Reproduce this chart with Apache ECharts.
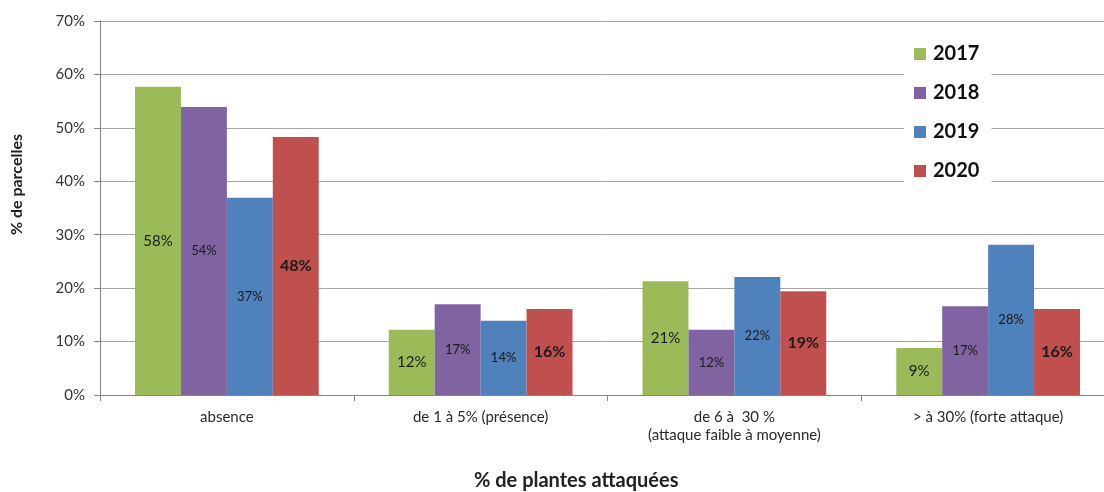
<!DOCTYPE html>
<html>
<head>
<meta charset="utf-8">
<style>
  html, body { margin: 0; padding: 0; background: #ffffff; }
  #chart { width: 1104px; height: 492px; }
</style>
<script src="https://cdn.jsdelivr.net/npm/echarts@6/dist/echarts.min.js"></script>
</head>
<body>
<div id="chart"></div>
<script>
// Attack classes (share of plants attacked)
const categories = [
  'absence',
  'de 1 à 5% (présence)',
  'de 6 à  30 %\n(attaque faible à moyenne)',
  '> à 30% (forte attaque)'
];

// Share of plots (%) per year
const years = ['2017', '2018', '2019', '2020'];
const values2017 = [57.7, 12.2, 21.3, 8.8];
const values2018 = [53.9, 17.0, 12.2, 16.6];
const values2019 = [36.9, 13.9, 22.1, 28.1];
const values2020 = [48.3, 16.1, 19.4, 16.1];

// Y axis ticks
const yMin = 0, yMax = 70, yStep = 10;

const FONT = 'Lato, "Open Sans", sans-serif';
const colors = ['#9BBB59', '#8064A2', '#4F81BD', '#C0504D'];
const labelStyles = [
  { fontSize: 15, fontWeight: 'normal' },
  { fontSize: 13, fontWeight: 'normal' },
  { fontSize: 13, fontWeight: 'normal' },
  { fontSize: 16, fontWeight: 'bold' }
];
const seriesValues = [values2017, values2018, values2019, values2020];

const chart = echarts.init(document.getElementById('chart'), null, { renderer: 'canvas' });

chart.setOption({
  animation: false,
  backgroundColor: '#ffffff',
  textStyle: { fontFamily: FONT },
  // plot area runs a little past the right edge of the canvas
  grid: { left: 100, width: 1015, top: 21, bottom: 97, containLabel: false, outerBoundsMode: 'none' },
  legend: {
    orient: 'vertical',
    left: 904,
    top: 32,
    padding: [12, 12, 8, 10],
    itemGap: 19,
    itemWidth: 12,
    itemHeight: 12,
    icon: 'rect',
    backgroundColor: '#ffffff',
    textStyle: { fontFamily: FONT, fontSize: 20, fontWeight: 'bold', color: '#111111', lineHeight: 20, padding: [0, 0, 0, 2] },
    data: years
  },
  xAxis: {
    type: 'category',
    data: categories,
    axisLine: { lineStyle: { color: '#868686', width: 1 } },
    axisTick: { show: true, length: 6, lineStyle: { color: '#868686' } },
    axisLabel: { fontFamily: FONT, fontSize: 15, color: '#2a2a2a', margin: 13, lineHeight: 18 },
    splitLine: { show: false }
  },
  yAxis: {
    type: 'value',
    min: yMin,
    max: yMax,
    interval: yStep,
    axisLine: { show: true, lineStyle: { color: '#868686', width: 1 } },
    axisTick: { show: true, length: 6, lineStyle: { color: '#868686' } },
    axisLabel: { fontFamily: FONT, fontSize: 15, color: '#333333', margin: 15, formatter: v => v + '%' },
    splitLine: { lineStyle: { color: '#a6a6a6', width: 1 } }
  },
  series: years.map((y, i) => ({
    name: y,
    type: 'bar',
    data: seriesValues[i],
    barGap: '0%',
    barCategoryGap: '27.6%',
    itemStyle: { color: colors[i] },
    label: {
      show: true,
      position: 'inside',
      fontFamily: FONT,
      fontSize: labelStyles[i].fontSize,
      fontWeight: labelStyles[i].fontWeight,
      color: '#1a1a1a',
      formatter: p => Math.round(p.value) + '%'
    }
  })),
  graphic: [
    {
      type: 'text',
      left: 9,
      top: 134,
      rotation: Math.PI / 2,
      style: { text: '% de parcelles', fontFamily: FONT, fontSize: 16, fontWeight: 'bold', fill: '#222222' }
    },
    {
      type: 'text',
      left: 474,
      top: 471,
      style: { text: '% de plantes attaquées', fontFamily: FONT, fontSize: 20, fontWeight: 'bold', fill: '#222222' }
    }
  ]
});
</script>
</body>
</html>
